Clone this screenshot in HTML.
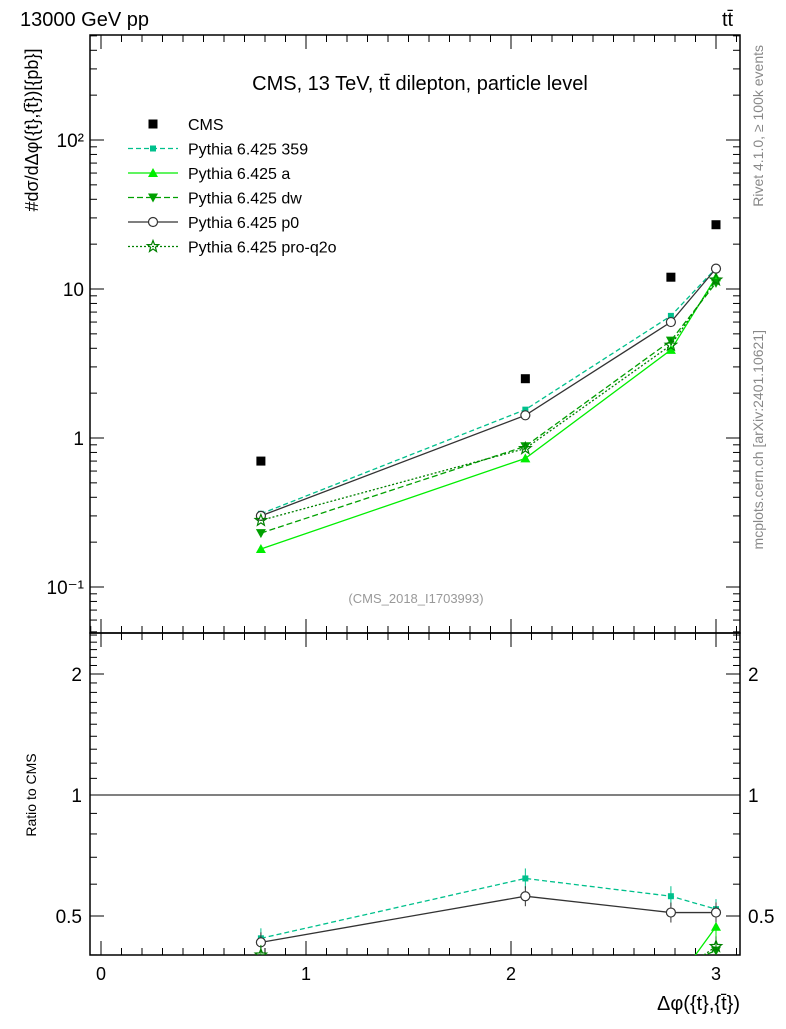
<!DOCTYPE html>
<html><head><meta charset="utf-8"><style>
body{margin:0;background:#fff;}
svg{font-family:"Liberation Sans","DejaVu Sans",sans-serif;}
</style></head><body>
<svg id="c" width="786" height="1024" xmlns="http://www.w3.org/2000/svg">
<rect width="786" height="1024" fill="#fff"/>
<text x="20" y="26" font-size="20">13000 GeV pp</text>
<text x="722" y="26" font-size="20">tt̄</text>
<text x="420" y="90" font-size="20" text-anchor="middle">CMS, 13 TeV, tt̄ dilepton, particle level</text>
<text x="416" y="603" font-size="13" fill="#999" text-anchor="middle">(CMS_2018_I1703993)</text>
<text transform="translate(763,45) rotate(-90)" font-size="14" fill="#888" text-anchor="end">Rivet 4.1.0, ≥ 100k events</text>
<text transform="translate(763,330) rotate(-90)" font-size="14" fill="#888" text-anchor="end">mcplots.cern.ch [arXiv:2401.10621]</text>
<text transform="translate(38,130) rotate(-90)" font-size="18" text-anchor="middle">#dσ/dΔφ({t},{t̄})[{pb}]</text>
<text transform="translate(36,795) rotate(-90)" font-size="14" text-anchor="middle">Ratio to CMS</text>
<text x="740" y="1010" font-size="20" text-anchor="end">Δφ({t},{t̄})</text>
<g id="main"></g>
<g id="ratio"></g>
<g id="legend"></g>
</svg>
<script>
const xs=[0.78,2.07,2.78,3.0];
const cms=[0.70,2.5,12,27];
const s359=[0.31,1.55,6.6,13.8];
const sa=[0.18,0.73,3.9,12];
const sdw=[0.23,0.88,4.5,11];
const sp0=[0.30,1.42,6.0,13.7];
const sq2o=[0.28,0.85,4.2,11.5];
const r359=[0.44,0.62,0.56,0.52];
const ra=[0.26,0.29,0.33,0.47];
const rdw=[0.33,0.35,0.37,0.41];
const rp0=[0.43,0.56,0.51,0.51];
const rq2o=[0.40,0.34,0.35,0.42];
const xTicks=[0,1,2,3];
const yTicks=[[0.1,"10⁻¹"],[1,"1"],[10,"10"],[100,"10²"]];
const rTicks=[[0.5,"0.5"],[1,"1"],[2,"2"]];
const NS="http://www.w3.org/2000/svg";
const L=90,R=740,T=35,B=633,RB=955;
const X=v=>101+v*205;
const Y=v=>289-(Math.log10(v)-1)*149;
const RY=v=>795-Math.log2(v)*121;
function mk(t,a,p){const e=document.createElementNS(NS,t);for(const k in a)e.setAttribute(k,a[k]);p.appendChild(e);return e;}
const main=document.getElementById('main'),ratio=document.getElementById('ratio'),leg=document.getElementById('legend');
const defs=mk('defs',{},document.getElementById('c'));
const c1=mk('clipPath',{id:'cm'},defs);mk('rect',{x:L,y:T,width:R-L,height:B-T},c1);
const c2=mk('clipPath',{id:'cr'},defs);mk('rect',{x:L,y:B,width:R-L,height:RB-B},c2);
let f=mk('rect',{x:L,y:T,width:R-L,height:B-T,fill:'none',stroke:'#000','stroke-width':1.5},main);

f=mk('rect',{x:L,y:B,width:R-L,height:RB-B,fill:'none',stroke:'#000','stroke-width':1.5},ratio);

for(const t of xTicks){
 for(const [y0,d] of [[T,1],[B,-1],[B,1],[RB,-1]]) mk('line',{x1:X(t),x2:X(t),y1:y0,y2:y0+d*14,stroke:'#000'},main);
 const tx=mk('text',{x:X(t),y:980,'font-size':18,'text-anchor':'middle'},ratio);tx.textContent=t;
 
 for(let m=1;m<10;m++){const v=t+m*0.1;if(X(v)>R)break;
  for(const [y0,d] of [[T,1],[B,-1],[B,1],[RB,-1]]) mk('line',{x1:X(v),x2:X(v),y1:y0,y2:y0+d*7,stroke:'#000'},main);}
}
mk('line',{x1:X(-0.05),x2:X(-0.05),y1:B,y2:B-7,stroke:'#000'},main);
for(const [v,l] of yTicks){
 mk('line',{x1:L,x2:L+14,y1:Y(v),y2:Y(v),stroke:'#000'},main);
 mk('line',{x1:R,x2:R-14,y1:Y(v),y2:Y(v),stroke:'#000'},main);
 const tx=mk('text',{x:L-6,y:Y(v)+7,'font-size':19,'text-anchor':'end'},main);tx.textContent=l;
 
}
for(let d=-2;d<=2;d++)for(let m=2;m<10;m++){const v=m*Math.pow(10,d);const y=Y(v);if(y<T||y>B)continue;
 mk('line',{x1:L,x2:L+7,y1:y,y2:y,stroke:'#000'},main);mk('line',{x1:R,x2:R-7,y1:y,y2:y,stroke:'#000'},main);}
for(const [v,l] of rTicks){
 mk('line',{x1:L,x2:L+14,y1:RY(v),y2:RY(v),stroke:'#000'},ratio);
 mk('line',{x1:R,x2:R-14,y1:RY(v),y2:RY(v),stroke:'#000'},ratio);
 let tx=mk('text',{x:L-8,y:RY(v)+7,'font-size':19,'text-anchor':'end'},ratio);tx.textContent=l;
 
 tx=mk('text',{x:R+8,y:RY(v)+7,'font-size':19},ratio);tx.textContent=l;
 
}
for(let i=3;i<=25;i++){const v=i/10;if(v===0.5||v===1||v===2)continue;const y=RY(v);if(y<B||y>RB)continue;
 mk('line',{x1:L,x2:L+7,y1:y,y2:y,stroke:'#000'},ratio);mk('line',{x1:R,x2:R-7,y1:y,y2:y,stroke:'#000'},ratio);}
mk('line',{x1:L,x2:R,y1:RY(1),y2:RY(1),stroke:'#000'},ratio);
function marker(type,x,y,col,g){
 if(type==='sq')return mk('rect',{x:x-4.5,y:y-4.5,width:9,height:9,fill:col},g);
 if(type==='sqs')return mk('rect',{x:x-3,y:y-3,width:6,height:6,fill:col},g);
 if(type==='tu')return mk('polygon',{points:`${x},${y-5} ${x-5},${y+4} ${x+5},${y+4}`,fill:col},g);
 if(type==='td')return mk('polygon',{points:`${x},${y+5} ${x-5},${y-4} ${x+5},${y-4}`,fill:col},g);
 if(type==='o')return mk('circle',{cx:x,cy:y,r:4.5,fill:'#fff',stroke:col,'stroke-width':1.2},g);
 if(type==='st'){let p=[];for(let i=0;i<10;i++){const r=i%2?2.5:6,a=-Math.PI/2+i*Math.PI/5;p.push((x+r*Math.cos(a)).toFixed(1)+','+(y+r*Math.sin(a)).toFixed(1));}
  return mk('polygon',{points:p.join(' '),fill:'none',stroke:col,'stroke-width':1.2},g);}
}
const series=[
 ['pythia-359',s359,r359,'#00c08c','5,3','sqs','Pythia 6.425 359'],
 ['pythia-a',sa,ra,'#00ee00','','tu','Pythia 6.425 a'],
 ['pythia-dw',sdw,rdw,'#00a000','6,3','td','Pythia 6.425 dw'],
 ['pythia-p0',sp0,rp0,'#333333','','o','Pythia 6.425 p0'],
 ['pythia-pro-q2o',sq2o,rq2o,'#008000','2,2','st','Pythia 6.425 pro-q2o']];
for(const [name,vals,rv,col,dash,m] of series){
 const g=mk('g',{'clip-path':'url(#cm)'},main);
 
 mk('polyline',{points:xs.map((x,i)=>X(x)+','+Y(vals[i])).join(' '),fill:'none',stroke:col,'stroke-width':1.3,'stroke-dasharray':dash},g);
 xs.forEach((x,i)=>{const p=marker(m,X(x),Y(vals[i]),col,g);});
 const g2=mk('g',{'clip-path':'url(#cr)'},ratio);
 
 mk('polyline',{points:xs.map((x,i)=>X(x)+','+RY(rv[i])).join(' '),fill:'none',stroke:col,'stroke-width':1.3,'stroke-dasharray':dash},g2);
 xs.forEach((x,i)=>{mk('line',{x1:X(x),x2:X(x),y1:RY(rv[i])-10,y2:RY(rv[i])+10,stroke:col},g2);
  const p=marker(m,X(x),RY(rv[i]),col,g2);});
}
xs.forEach((x,i)=>{const p=marker('sq',X(x),Y(cms[i]),'#000',main);});
const items=[['CMS','#000','','sq',null]].concat(series.map(s=>[s[6],s[3],s[4],s[5],1]));
items.forEach((it,i)=>{const y=124+i*24.5;
 const g=mk('g',{},leg);
 if(it[4])mk('line',{x1:128,x2:178,y1:y,y2:y,stroke:it[1],'stroke-width':1.3,'stroke-dasharray':it[2]},g);
 marker(it[3],153,y,it[1],g);
 const t=mk('text',{x:188,y:y+6,'font-size':16},g);t.textContent=it[0];});
</script>
</body></html>
